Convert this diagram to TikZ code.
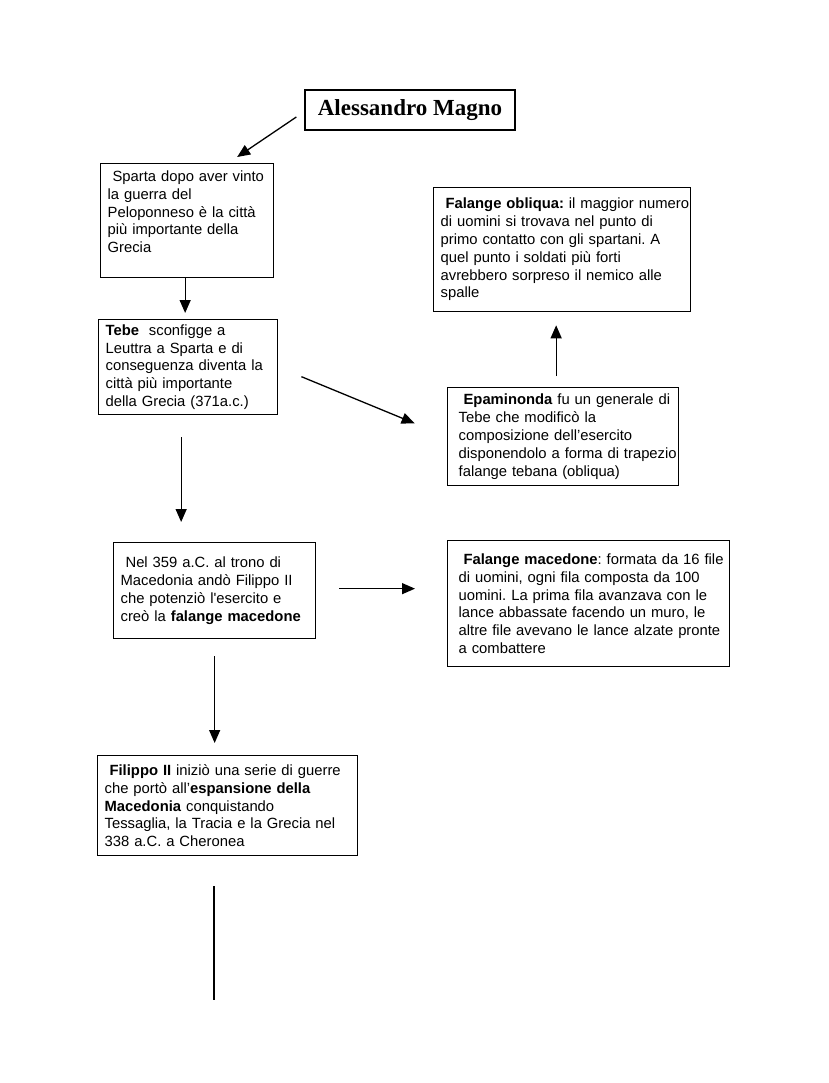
\documentclass[tikz,border=0pt]{standalone}
\usepackage{fontspec}
\setmainfont{Liberation Sans}
\newfontfamily\titolofont{Liberation Serif}
\usepackage{tikz}
\usetikzlibrary{positioning}
\usetikzlibrary{arrows.meta}

\tikzset{
  blocco/.style={draw, line width=1.3pt, anchor=north west, text width=#1,
    inner xsep=7pt, inner ysep=0pt, font=\fontsize{14.8}{17.8}\selectfont,
    execute at begin node={\frenchspacing\hyphenpenalty=10000\rightskip=-40pt plus 1fil\parindent=0pt}},
  freccia/.style={line width=1.3pt, -{Triangle[length=13pt,width=11pt]}}
}

\begin{document}
\begin{tikzpicture}[x=1pt,y=-1pt]
\useasboundingbox (0,0) rectangle (828,1083);

\node[draw, line width=1.3pt, minimum width=210pt, minimum height=40pt,
  font=\titolofont\bfseries\fontsize{23}{27}\selectfont] (titolo) at (410,110) {Alessandro Magno};

\node[blocco=159pt, minimum height=114pt] (sparta) at (100,163)
  {\ Sparta dopo aver vinto\\la guerra del\\Peloponneso è la città\\più importante della\\Grecia\\\mbox{}};
\node[blocco=165pt, minimum height=95pt] (tebe) at (98,319)
  {\textbf{Tebe}\ \ sconfigge a\\Leuttra a Sparta e di\\conseguenza diventa la\\città più importante\\della Grecia (371a.c.)};
\node[blocco=188pt, minimum height=96pt] (nel) at (113,542)
  {\ Nel 359 a.C. al trono di\\Macedonia andò Filippo II\\che potenziò l\textquotesingle esercito e\\creò la \textbf{falange macedone}};
\node[blocco=246pt, minimum height=100pt] (filippo) at (97,755)
  {\ \textbf{Filippo II} iniziò una serie di guerre\\che portò all’\textbf{espansione della}\\\textbf{Macedonia} conquistando\\Tessaglia, la Tracia e la Grecia nel\\338 a.C. a Cheronea};

\node[blocco=243pt, minimum height=124pt] (obliqua) at (433,187)
  {\ \textbf{Falange obliqua:} il maggior numero\\di uomini si trovava nel punto di\\primo contatto con gli spartani. A\\quel punto i soldati più forti\\avrebbero sorpreso il nemico alle\\spalle};
\node[blocco=209pt, inner xsep=11pt, minimum height=98pt] (epaminonda) at (447,387)
  {\ \textbf{Epaminonda} fu un generale di\\Tebe che modificò la\\composizione dell’esercito\\disponendolo a forma di trapezio\\falange tebana (obliqua)};
\node[blocco=260pt, inner xsep=11pt, minimum height=126pt] (macedone) at (447,540)
  {\ \textbf{Falange macedone}: formata da 16 file\\di uomini, ogni fila composta da 100\\uomini. La prima fila avanzava con le\\lance abbassate facendo un muro, le\\altre file avevano le lance alzate pronte\\a combattere};

\coordinate (fine) at (214,1000);

\draw[freccia] ([xshift=-8pt,yshift=-7pt]titolo.west) -- ([xshift=50pt,yshift=6pt]sparta.north);
\draw[freccia, shorten >=6pt] ([xshift=-2pt]sparta.south) -- ([xshift=-2pt]sparta.south |- tebe.north);
\draw[freccia, shorten <=22pt, shorten >=20pt] ([xshift=-7pt]tebe.south) -- ([xshift=-7pt]tebe.south |- nel.north);
\draw[freccia, shorten <=25pt, shorten >=35pt] (tebe.east) -- (epaminonda.west);
\draw[freccia, shorten <=11pt, shorten >=13pt] ([xshift=-7pt]epaminonda.north) -- ([xshift=-7pt]epaminonda.north |- obliqua.south);
\draw[freccia, shorten <=23pt, shorten >=32pt] ([yshift=2pt]nel.east) -- ([yshift=2pt]nel.east -| macedone.west);
\draw[freccia, shorten <=17pt, shorten >=12pt] (nel.south) -- (nel.south |- filippo.north);
\draw[line width=1.3pt, shorten <=30pt] (filippo.south -| fine) -- (fine);
\end{tikzpicture}
\end{document}
